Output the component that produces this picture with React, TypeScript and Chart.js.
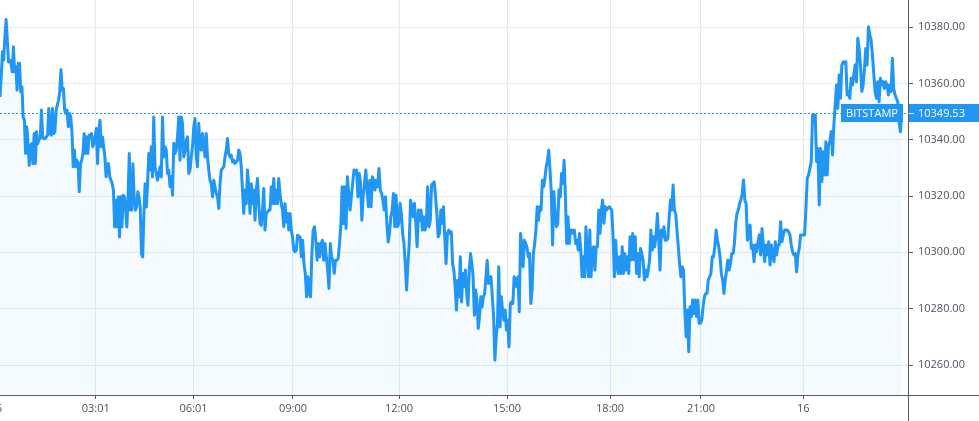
import React, { useEffect, useRef } from 'react';
import { Chart, registerables } from 'chart.js';

Chart.register(...registerables);

// BTC/USD (Bitstamp) price in six consecutive time segments
const SEG_A = [
  10355.2, 10362.3, 10371.2, 10368.2, 10376.5, 10382.7, 10375.3, 10367.6, 10368.2, 10367.1,
  10364.1, 10373.0, 10364.1, 10365.9, 10357.6, 10367.1, 10367.1, 10357.0, 10358.8, 10348.1,
  10346.9, 10335.1, 10344.6, 10338.6, 10330.9, 10337.5, 10338.6, 10331.5, 10342.2, 10331.5,
  10342.8, 10338.6, 10340.4, 10340.4, 10350.5, 10341.0, 10340.4, 10340.4, 10341.0, 10341.6,
  10351.1, 10342.2, 10341.6, 10351.1, 10342.2, 10342.8, 10350.5, 10352.3, 10354.0, 10357.0,
  10364.9, 10357.6, 10358.2, 10350.5, 10349.3, 10350.5, 10344.6, 10349.3, 10348.1, 10342.8,
  10330.4, 10336.3, 10330.4, 10332.7, 10331.5, 10321.5, 10331.5, 10332.7, 10335.1, 10342.2,
  10335.1, 10341.0, 10335.1, 10341.6, 10341.0, 10342.2, 10337.5, 10338.6, 10341.0, 10344.0,
  10331.5, 10343.4, 10346.9, 10337.5, 10341.0, 10337.5, 10333.9, 10326.8, 10331.5, 10331.5,
  10326.8, 10325.6, 10324.4, 10322.1, 10309.0, 10318.5, 10309.0, 10319.7, 10305.5, 10319.7,
  10309.0, 10320.3, 10319.7, 10315.0, 10309.0, 10319.7, 10335.1, 10315.0, 10315.0, 10331.5,
  10319.7, 10315.0, 10316.1, 10321.5, 10319.7, 10316.1, 10299.6, 10298.4, 10313.8, 10324.4,
  10316.1, 10324.4, 10335.1,
];
const SEG_B = [
  10329.2, 10337.5, 10326.8, 10348.1, 10330.4, 10328.0, 10325.6, 10328.0, 10330.4, 10326.8,
  10348.1, 10333.9, 10337.5, 10336.3, 10328.0, 10329.2, 10323.3, 10326.8, 10320.3, 10338.7,
  10335.1, 10336.3, 10341.0, 10348.1, 10332.7, 10348.1, 10345.8, 10333.9, 10336.3, 10339.8,
  10341.0, 10328.0, 10329.2, 10333.9, 10337.5, 10344.6, 10347.5, 10333.9, 10330.4, 10345.8,
  10336.9, 10336.3, 10342.2, 10337.5, 10333.9, 10342.2, 10333.9, 10329.2, 10325.6, 10324.4,
  10319.7, 10325.6, 10323.3, 10320.9, 10319.7, 10315.6, 10324.4, 10329.2, 10329.8, 10330.4,
  10333.9, 10336.3, 10340.4, 10335.1, 10333.9, 10334.5, 10332.1, 10332.7, 10331.6, 10332.1,
  10332.7, 10336.3, 10335.1, 10330.4, 10322.1, 10313.8, 10322.1, 10317.3, 10329.2, 10323.3,
  10313.8, 10324.4, 10317.3, 10322.1, 10311.4, 10322.1, 10326.2, 10317.3, 10310.2, 10309.6,
  10315.0, 10322.7, 10307.9, 10313.8, 10314.4, 10315.0, 10315.0, 10323.3, 10317.3, 10326.2,
  10317.3, 10322.1, 10317.3, 10326.2, 10320.9, 10317.3, 10315.0, 10309.1, 10317.3, 10310.8,
  10313.8, 10307.9, 10313.8, 10307.9, 10305.5, 10300.8, 10300.2, 10300.8, 10306.1, 10305.5,
];
const SEG_C = [
  10305.5, 10298.4, 10304.3, 10296.0, 10292.5, 10284.2, 10291.3, 10285.4, 10284.2, 10299.6,
  10307.9, 10309.1, 10304.3, 10297.2, 10303.1, 10298.4, 10303.1, 10304.3, 10297.2, 10303.1,
  10298.4, 10293.7, 10287.2, 10303.1, 10298.4, 10297.2, 10292.5, 10297.2, 10297.2, 10297.8,
  10303.1, 10309.1, 10323.3, 10310.2, 10323.3, 10308.5, 10326.8, 10320.9, 10315.0, 10319.7,
  10324.5, 10329.2, 10328.0, 10329.2, 10319.7, 10328.0, 10324.5, 10311.4, 10319.7, 10324.5,
  10329.2, 10322.1, 10316.2, 10325.6, 10316.2, 10326.8, 10325.6, 10322.1, 10325.6, 10323.3,
  10329.8, 10322.1, 10320.9, 10318.5, 10315.0, 10319.7, 10310.2, 10303.7, 10306.7, 10312.6,
  10315.0, 10320.9, 10309.1, 10320.3, 10309.1, 10310.2, 10317.4, 10313.8, 10306.7, 10303.1,
  10296.0, 10286.6, 10296.0, 10303.1, 10318.5, 10316.2, 10312.6, 10317.4, 10310.2, 10302.0,
  10315.0, 10311.4, 10315.0, 10307.9, 10312.6, 10307.9, 10310.2, 10323.3, 10309.1, 10311.4,
  10323.9, 10324.5, 10325.0, 10319.7, 10313.8, 10305.5, 10306.7, 10315.0, 10310.2, 10316.2,
  10305.5, 10296.0, 10306.7, 10307.9,
];
const SEG_D = [
  10306.7, 10307.3, 10296.0, 10293.7, 10287.8, 10279.5, 10290.1, 10284.2, 10298.4, 10282.4,
  10292.5, 10287.8, 10293.7, 10285.4, 10281.2, 10293.7, 10299.6, 10296.0, 10291.3, 10277.7,
  10286.6, 10283.0, 10273.0, 10277.1, 10284.2, 10280.6, 10284.2, 10285.4, 10291.3, 10297.2,
  10288.9, 10291.3, 10291.3, 10284.2, 10277.1, 10261.7, 10270.0, 10274.7, 10294.9, 10273.5,
  10284.2, 10279.5, 10275.9, 10279.5, 10272.4, 10275.9, 10266.4, 10281.8, 10282.4, 10281.8,
  10291.3, 10290.1, 10287.8, 10291.3, 10278.9, 10306.7, 10302.0, 10294.9, 10304.3, 10303.1,
  10302.0, 10298.4, 10299.6, 10281.8, 10286.6, 10299.6, 10303.1, 10307.9, 10316.2, 10311.4,
  10316.2, 10315.0, 10325.6, 10323.3, 10326.2, 10330.4, 10332.7, 10336.3, 10329.2, 10321.5,
  10302.6, 10321.5, 10313.8, 10309.1, 10310.2, 10322.1, 10319.7, 10328.0, 10324.5, 10332.7,
  10319.7, 10303.1, 10312.6, 10303.1, 10307.9, 10307.9, 10306.7, 10307.9, 10303.1, 10304.3,
  10300.8, 10306.7, 10300.8, 10291.3, 10298.4, 10291.3, 10309.1, 10298.4, 10291.3, 10307.9,
  10291.3, 10300.8, 10302.0, 10293.7, 10302.0, 10302.0, 10315.0,
];
const SEG_E = [
  10306.7, 10315.0, 10318.6, 10310.3, 10316.2, 10315.0, 10315.6, 10316.2, 10315.6, 10315.0,
  10305.5, 10291.3, 10304.3, 10294.9, 10292.5, 10298.4, 10292.5, 10302.0, 10292.5, 10299.6,
  10293.7, 10298.4, 10292.5, 10305.5, 10297.3, 10306.7, 10297.3, 10305.5, 10292.5, 10299.6,
  10291.3, 10301.4, 10299.6, 10297.3, 10290.2, 10293.7, 10291.3, 10293.7, 10297.3, 10307.9,
  10300.8, 10305.5, 10302.0, 10306.7, 10313.8, 10304.3, 10293.7, 10307.9, 10305.5, 10309.1,
  10304.3, 10304.3, 10305.0, 10312.6, 10318.6, 10315.0, 10323.9, 10315.0, 10313.8, 10307.9,
  10302.0, 10296.1, 10291.3, 10294.9, 10293.7, 10279.5, 10270.0, 10279.5, 10264.7, 10280.7,
  10277.2, 10283.1, 10278.3, 10283.1, 10277.2, 10283.1, 10274.8, 10274.8, 10276.0, 10280.7,
  10284.3, 10285.4, 10285.4, 10290.2, 10291.3, 10292.5, 10298.4, 10298.4, 10302.0, 10307.9,
  10304.3, 10302.0, 10298.4, 10292.5, 10290.2, 10285.4, 10290.2, 10293.7, 10297.3, 10293.7,
  10296.1, 10299.6, 10299.6, 10303.2, 10310.3, 10313.8, 10315.0, 10317.4, 10318.6, 10321.0,
  10325.7, 10318.6, 10317.4, 10304.3, 10306.7,
];
const SEG_F = [
  10309.7, 10301.4, 10302.6, 10296.7, 10302.6, 10300.2, 10303.8, 10306.2, 10299.1, 10308.5,
  10302.6, 10296.7, 10302.6, 10299.1, 10303.8, 10295.5, 10302.6, 10299.1, 10296.7, 10303.8,
  10299.1, 10302.6, 10302.6, 10310.9, 10303.8, 10306.2, 10307.9, 10307.9, 10307.9, 10307.3,
  10306.2, 10302.6, 10300.2, 10299.1, 10299.6, 10293.1, 10299.1, 10301.4, 10306.2, 10306.2,
  10306.2, 10306.2, 10315.6, 10326.3, 10327.5, 10329.8, 10332.2, 10348.8, 10348.8, 10348.8,
  10332.2, 10336.9, 10316.8, 10336.9, 10325.1, 10335.7, 10327.5, 10339.3, 10327.5, 10338.1,
  10339.3, 10342.9, 10334.6, 10345.2, 10352.3, 10359.4, 10351.1, 10363.0, 10354.7, 10366.5,
  10367.7, 10367.1, 10367.7, 10355.9, 10357.1, 10354.7, 10361.8, 10359.4, 10363.0, 10366.5,
  10360.6, 10376.0, 10372.4, 10366.5, 10357.1, 10359.4, 10365.3, 10372.4, 10366.5, 10380.1,
  10377.2, 10375.4, 10370.0, 10363.5, 10357.1, 10354.7, 10360.6, 10353.5, 10361.8, 10359.4,
  10360.6, 10358.2, 10360.6, 10359.4, 10355.9, 10359.4, 10357.1, 10368.9, 10358.2, 10355.9,
  10354.7, 10353.5, 10346.4, 10342.8, 10349.53,
];

const SEGMENTS = [SEG_A, SEG_B, SEG_C, SEG_D, SEG_E, SEG_F];
// time span of each segment (segment units); the last one is slightly longer
const SEGMENT_SPAN = [1, 1, 1, 1, 1, 1.011];
const X_END = 6.053;

const TICK_LABELS = ['15', '03:01', '06:01', '09:00', '12:00', '15:00', '18:00', '21:00', '16'];
const TICK_AT = [-0.027, 0.638, 1.29, 1.953, 2.66, 3.38, 4.067, 4.673, 5.355];

const Y_TICKS = [10260, 10280, 10300, 10320, 10340, 10360, 10380];
const Y_MIN = 10249.35;
const Y_MAX = 10389.6;

const LAST_PRICE = 10349.53;
const SOURCE = 'BITSTAMP';

const LINE_COLOR = '#2196f3';
const GRID_COLOR = '#e1ecf2';
const AXIS_COLOR = '#555a66';
const TEXT_COLOR = '#4c525e';
const FONT = "'Open Sans', 'Noto Sans', sans-serif";

function buildPoints() {
  const pts: { x: number; y: number }[] = [];
  let start = 0;
  SEGMENTS.forEach((seg, s) => {
    const isLast = s === SEGMENTS.length - 1;
    const step = SEGMENT_SPAN[s] / (isLast ? seg.length - 1 : seg.length);
    seg.forEach((v, j) => pts.push({ x: start + j * step, y: v }));
    start += SEGMENT_SPAN[s];
  });
  return pts;
}

const tvPlugin = {
  id: 'tvDecor',
  beforeDatasetsDraw(chart: any) {
    const { ctx, chartArea, scales } = chart;
    const y = Math.round(scales.y.getPixelForValue(LAST_PRICE)) + 0.5;
    ctx.save();
    ctx.strokeStyle = LINE_COLOR;
    ctx.lineWidth = 1;
    ctx.setLineDash([2, 2]);
    ctx.beginPath();
    ctx.moveTo(chartArea.left, y);
    ctx.lineTo(chartArea.right, y);
    ctx.stroke();
    ctx.restore();
  },
  afterDraw(chart: any) {
    const { ctx, chartArea, scales, width, height } = chart;
    ctx.save();
    // axis lines
    ctx.strokeStyle = AXIS_COLOR;
    ctx.lineWidth = 1;
    ctx.beginPath();
    ctx.moveTo(0, Math.round(chartArea.bottom) + 0.5);
    ctx.lineTo(width, Math.round(chartArea.bottom) + 0.5);
    ctx.moveTo(Math.round(chartArea.right) + 0.5, 0);
    ctx.lineTo(Math.round(chartArea.right) + 0.5, height);
    ctx.stroke();

    // last price label on the axis
    const yc = Math.round(scales.y.getPixelForValue(LAST_PRICE));
    const bh = 18;
    const axX = Math.round(chartArea.right) + 1;
    ctx.fillStyle = LINE_COLOR;
    ctx.fillRect(axX, yc - bh / 2, width - axX, bh);
    ctx.strokeStyle = '#ffffff';
    ctx.beginPath();
    ctx.moveTo(axX, yc + 0.5);
    ctx.lineTo(axX + 5, yc + 0.5);
    ctx.stroke();
    ctx.font = `11px ${FONT}`;
    ctx.fillStyle = '#ffffff';
    ctx.textBaseline = 'middle';
    ctx.textAlign = 'left';
    ctx.fillText(LAST_PRICE.toFixed(2), axX + 9, yc + 0.5);

    // source label
    const tw = ctx.measureText(SOURCE).width;
    const bw = Math.round(tw + 10);
    const bx = Math.round(chartArea.right) - 5 - bw;
    ctx.fillStyle = LINE_COLOR;
    ctx.fillRect(bx, yc - bh / 2, bw, bh);
    ctx.fillStyle = '#ffffff';
    ctx.textAlign = 'center';
    ctx.fillText(SOURCE, bx + bw / 2, yc + 0.5);
    ctx.restore();
  },
};

export default function App() {
  const canvasRef = useRef<HTMLCanvasElement | null>(null);

  useEffect(() => {
    if (!canvasRef.current) return;
    const chart = new Chart(canvasRef.current, {
      type: 'line',
      data: {
        datasets: [
          {
            data: buildPoints(),
            borderColor: LINE_COLOR,
            borderWidth: 3,
            borderJoinStyle: 'round',
            backgroundColor: 'rgba(33,150,243,0.05)',
            fill: 'start',
            pointRadius: 0,
            tension: 0,
          },
        ],
      },
      options: {
        responsive: false,
        animation: false,
        layout: { padding: 0 },
        plugins: { legend: { display: false }, tooltip: { enabled: false } },
        scales: {
          x: {
            type: 'linear',
            min: 0,
            max: X_END,
            offset: false,
            border: { display: false },
            grid: { color: GRID_COLOR, tickColor: AXIS_COLOR, tickLength: 4, drawTicks: true },
            afterBuildTicks: (scale: any) => {
              scale.ticks = TICK_AT.map((v) => ({ value: v }));
            },
            afterFit: (scale: any) => {
              scale.height = 26;
              scale.paddingLeft = 0;
              scale.paddingRight = 0;
            },
            ticks: {
              autoSkip: false,
              maxRotation: 0,
              padding: 3,
              color: TEXT_COLOR,
              font: { family: FONT, size: 11 },
              callback: (_v: any, i: number) => TICK_LABELS[i],
            },
          },
          y: {
            type: 'linear',
            position: 'right',
            min: Y_MIN,
            max: Y_MAX,
            border: { display: false },
            grid: { color: GRID_COLOR, tickColor: AXIS_COLOR, tickLength: 5, drawTicks: true },
            afterBuildTicks: (scale: any) => {
              scale.ticks = Y_TICKS.map((v) => ({ value: v }));
            },
            afterFit: (scale: any) => {
              scale.width = 71;
              scale.paddingTop = 0;
              scale.paddingBottom = 0;
            },
            ticks: {
              padding: 5,
              color: TEXT_COLOR,
              font: { family: FONT, size: 11 },
              callback: (v: any) => Number(v).toFixed(2),
            },
          },
        },
      },
      plugins: [tvPlugin],
    } as any);
    return () => chart.destroy();
  }, []);

  return (
    <div style={{ position: 'absolute', left: 0, top: 0, width: 979, height: 421, background: '#ffffff' }}>
      <canvas ref={canvasRef} width={979} height={421} style={{ display: 'block' }} />
    </div>
  );
}
